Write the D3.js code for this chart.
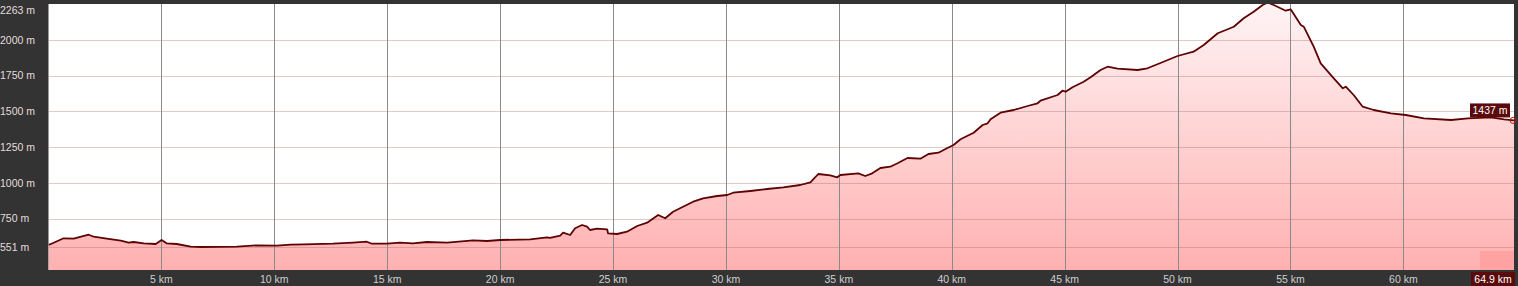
<!DOCTYPE html>
<html><head><meta charset="utf-8">
<script src="https://cdn.jsdelivr.net/npm/d3@7"></script>
<style>
html,body{margin:0;padding:0;background:#333333;overflow:hidden;}
svg{display:block;}
text{font-family:"Liberation Sans",Arial,sans-serif;}
</style></head>
<body>
<svg id="c" width="1518" height="286"></svg>
<script>
const distKm = [0.0,0.23,0.67,1.11,1.78,2.0,2.58,3.2,3.55,3.77,4.22,4.75,5.01,5.23,5.68,6.3,6.74,8.34,9.22,10.11,10.73,11.31,12.59,13.48,14.1,14.32,14.99,15.56,16.14,16.76,17.65,18.8,19.42,20.0,21.33,22.08,22.21,22.66,22.79,23.1,23.32,23.63,23.85,23.98,24.29,24.74,24.78,25.18,25.62,26.07,26.51,27.0,27.31,27.66,28.1,28.55,28.99,29.61,30.06,30.32,31.08,31.83,32.54,33.29,33.74,34.09,34.62,34.93,35.07,35.86,36.17,36.48,36.84,37.28,37.6,38.04,38.61,38.97,39.41,39.81,40.08,40.39,40.97,41.37,41.59,41.72,42.16,42.74,43.36,43.8,43.93,44.69,44.9,45.04,45.35,45.84,46.15,46.59,46.9,47.34,48.23,48.67,49.38,50.0,50.71,51.16,51.78,52.22,52.49,52.93,53.37,53.77,53.99,54.26,54.79,55.01,55.46,55.59,56.03,56.34,56.92,57.32,57.45,57.8,58.2,58.69,59.45,60.11,60.91,62.11,62.86,63.88,64.46,64.9];
const elevM = [565,581,612,609,637,623,609,595,581,586,577,572,600,577,572,553,551,553,563,560,567,570,574,581,588,574,574,581,577,586,581,598,593,600,605,619,615,630,651,635,682,705,693,670,679,675,647,642,658,698,721,775,752,798,833,868,892,908,915,931,943,957,969,985,1004,1062,1053,1039,1055,1067,1048,1067,1104,1113,1137,1174,1169,1202,1211,1244,1265,1305,1351,1405,1417,1445,1491,1510,1538,1557,1575,1615,1645,1638,1669,1708,1739,1790,1813,1799,1790,1802,1848,1888,1918,1965,2047,2075,2093,2152,2198,2245,2263,2245,2205,2215,2105,2093,1953,1837,1732,1662,1673,1615,1533,1510,1487,1475,1452,1440,1452,1459,1445,1437];
const yTicks = [551,750,1000,1250,1500,1750,2000,2263];
const xTicks = [5,10,15,20,25,30,35,40,45,50,55,60];
const totalKm = 64.9;
const endElev = 1437;

const svg = d3.select("#c");
const L = 48.5, R = 1514, T = 4, B = 270;
const x = d3.scaleLinear().domain([0, totalKm]).range([L, R]);
const y = d3.scaleLinear().domain([390, 2252]).range([B, T]);

const defs = svg.append("defs");
const g = defs.append("linearGradient").attr("id","fillg")
  .attr("gradientUnits","userSpaceOnUse").attr("x1",0).attr("y1",T).attr("x2",0).attr("y2",B);
g.append("stop").attr("offset","0%").attr("stop-color","#fff3f4");
g.append("stop").attr("offset","100%").attr("stop-color","#ffb1b1");
defs.append("clipPath").attr("id","clip").append("rect")
  .attr("x",L).attr("y",T).attr("width",R-L).attr("height",B-T);

svg.append("rect").attr("x",L).attr("y",T).attr("width",R-L).attr("height",B-T).attr("fill","#ffffff");

const data = distKm.map((d,i)=>({d, e: elevM[i]}));
const plot = svg.append("g").attr("clip-path","url(#clip)");

plot.append("path").datum(data)
  .attr("d", d3.area().x(p=>x(p.d)).y0(B).y1(p=>y(p.e)))
  .attr("fill","url(#fillg)");

plot.selectAll("line.hg").data(yTicks.filter(v=>v<2263)).join("line")
  .attr("x1",L).attr("x2",R).attr("y1",v=>Math.round(y(v))+0.5).attr("y2",v=>Math.round(y(v))+0.5)
  .attr("stroke","rgba(170,100,100,0.35)").attr("stroke-width",1);
plot.selectAll("line.vg").data(xTicks).join("line")
  .attr("y1",T).attr("y2",B).attr("x1",v=>Math.round(x(v))+0.5).attr("x2",v=>Math.round(x(v))+0.5)
  .attr("stroke","#8a8a8a").attr("stroke-width",1);

plot.append("path").datum(data)
  .attr("d", d3.line().x(p=>x(p.d)).y(p=>y(p.e)))
  .attr("fill","none").attr("stroke","#5e0303").attr("stroke-width",1.8).attr("stroke-linejoin","round");

svg.append("rect").attr("x",x(totalKm)-34).attr("y",B-19).attr("width",34).attr("height",19)
  .attr("fill","#ff9c9c").attr("opacity",0.75);

svg.append("circle").attr("cx",x(totalKm)-1).attr("cy",y(endElev)).attr("r",3)
  .attr("fill","none").attr("stroke","#c01818").attr("stroke-width",1);

svg.selectAll("text.yl").data(yTicks).join("text")
  .attr("x",0).attr("y",v=>Math.max(y(v),10)).attr("dy","0.35em")
  .attr("font-size","10.5px").attr("fill","#e4dcdc").text(v=>v+" m");

svg.selectAll("text.xl").data(xTicks).join("text")
  .attr("x",v=>x(v)).attr("y",279).attr("dy","0.35em").attr("text-anchor","middle")
  .attr("font-size","10.5px").attr("fill","#cfcfcf").text(v=>v+" km");

const kmLab = totalKm.toFixed(1)+" km";
svg.append("rect").attr("x",x(totalKm)-43).attr("y",272).attr("width",44).attr("height",14).attr("fill","#5a0a0a");
svg.append("text").attr("x",x(totalKm)-21).attr("y",279).attr("dy","0.35em").attr("text-anchor","middle")
  .attr("font-size","10.5px").attr("fill","#ffffff").text(kmLab);

svg.append("rect").attr("x",x(totalKm)-44).attr("y",y(endElev)-17).attr("width",40).attr("height",14).attr("fill","#5a0a0a");
svg.append("text").attr("x",x(totalKm)-24).attr("y",y(endElev)-10).attr("dy","0.35em").attr("text-anchor","middle")
  .attr("font-size","10.5px").attr("fill","#ffffff").text(endElev+" m");
</script>
</body></html>
